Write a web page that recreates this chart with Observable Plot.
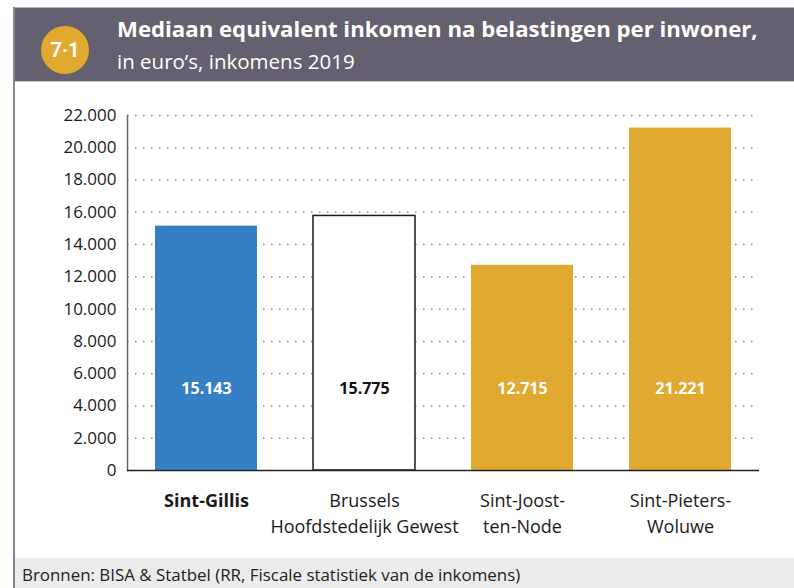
<!DOCTYPE html>
<html><head><meta charset="utf-8">
<script src="https://cdn.jsdelivr.net/npm/d3@7"></script>
<script src="https://cdn.jsdelivr.net/npm/@observablehq/plot@0.6"></script>
<style>
html,body{margin:0;padding:0;}
body{width:794px;height:588px;position:relative;overflow:hidden;background:#fff;font-family:"Open Sans",sans-serif;}
#header{position:absolute;left:13px;top:7px;width:781px;height:75px;background:#65606f;border-top:1px solid #b5b2ba;border-bottom:1px solid #c9c7cc;box-sizing:border-box;}
#badge{position:absolute;left:41px;top:26px;width:48px;height:48px;border-radius:50%;background:#e0a930;color:#fff;font-family:Roboto,sans-serif;font-weight:700;font-size:20px;line-height:48px;text-align:center;}
#title{position:absolute;left:117px;top:13px;color:#fff;font-family:"Open Sans",sans-serif;font-weight:700;font-size:22.2px;white-space:nowrap;}
#subtitle{position:absolute;left:117px;top:47px;color:#fff;font-family:"Open Sans",sans-serif;font-size:20.5px;white-space:nowrap;}
#chart{position:absolute;left:0;top:82px;}
#leftborder{position:absolute;left:13px;top:7px;width:1.5px;height:581px;background:#8a8596;z-index:5;}
#caption{position:absolute;left:13px;top:558px;width:781px;height:30px;background:#ececec;}
#captext{position:absolute;left:22px;top:563px;color:#222;font-size:16.9px;white-space:nowrap;}
</style></head>
<body>
<div id="header"></div>
<div id="badge">7·1</div>
<div id="title">Mediaan equivalent inkomen na belastingen per inwoner,</div>
<div id="subtitle">in euro’s, inkomens 2019</div>
<div id="chart"></div>
<div id="caption"></div>
<div id="captext">Bronnen: BISA &amp; Statbel (RR, Fiscale statistiek van de inkomens)</div>
<div id="leftborder"></div>
<script>
const categories = ["Sint-Gillis", "Brussels\nHoofdstedelijk Gewest", "Sint-Joost-\nten-Node", "Sint-Pieters-\nWoluwe"];
const values = [15143, 15775, 12715, 21221];
const yTicks = [0, 2000, 4000, 6000, 8000, 10000, 12000, 14000, 16000, 18000, 20000, 22000];

const palette = {"Sint-Gillis": "#3580c4", "Brussels\nHoofdstedelijk Gewest": "#ffffff"};
const fillOf = d => palette[d.cat] || "#e0a930";
const labelOf = d => d.cat.startsWith("Brussels") ? "#111" : "#fff";

const fmt = d3.formatLocale({decimal: ",", thousands: ".", grouping: [3], currency: ["€", ""]}).format(",d");
const data = categories.map((c, i) => ({cat: c, value: values[i]}));

const chart = Plot.plot({
  width: 794, height: 476,
  marginLeft: 127, marginRight: 35, marginTop: 33, marginBottom: 88,
  style: {fontFamily: "Open Sans", background: "transparent", color: "#1a1a1a", overflow: "visible"},
  x: {domain: categories, paddingInner: 0.354, paddingOuter: 0.177, axis: null},
  y: {domain: [0, 22000], axis: null},
  marks: [
    Plot.ruleY(yTicks.filter(d => d > 0), {stroke: "#8c8c8c", strokeDasharray: "1.5,6.5", strokeWidth: 1.5}),
    Plot.barY(data, {x: "cat", y: "value", fill: fillOf}),
    Plot.barY(data.filter(d => d.cat.startsWith("Brussels")), {x: "cat", y: "value", fill: "none", stroke: "#1a1a1a", strokeWidth: 1.5}),
    Plot.axisY({ticks: yTicks, tickFormat: fmt, tickSize: 0, tickPadding: 11, fontSize: 17, label: null}),
    Plot.frame({anchor: "left", stroke: "#666", strokeWidth: 1.5}),
    Plot.ruleY([0], {stroke: "#222", strokeWidth: 1.5}),
    Plot.text(data, {x: "cat", y: 0, dy: -82, text: d => fmt(d.value), fill: labelOf, fontWeight: "bold", fontSize: 16}),
    Plot.text(data.filter(d => d.cat === "Sint-Gillis"), {x: "cat", y: 0, text: "cat", lineAnchor: "top", dy: 18, fontSize: 18, lineHeight: 1.45, fontWeight: "bold", fill: "#1a1a1a"}),
    Plot.text(data.filter(d => d.cat !== "Sint-Gillis"), {x: "cat", y: 0, text: "cat", lineAnchor: "top", dy: 18, fontSize: 18, lineHeight: 1.45, fill: "#1a1a1a"})
  ]
});
document.getElementById("chart").appendChild(chart);
</script>
</body></html>
